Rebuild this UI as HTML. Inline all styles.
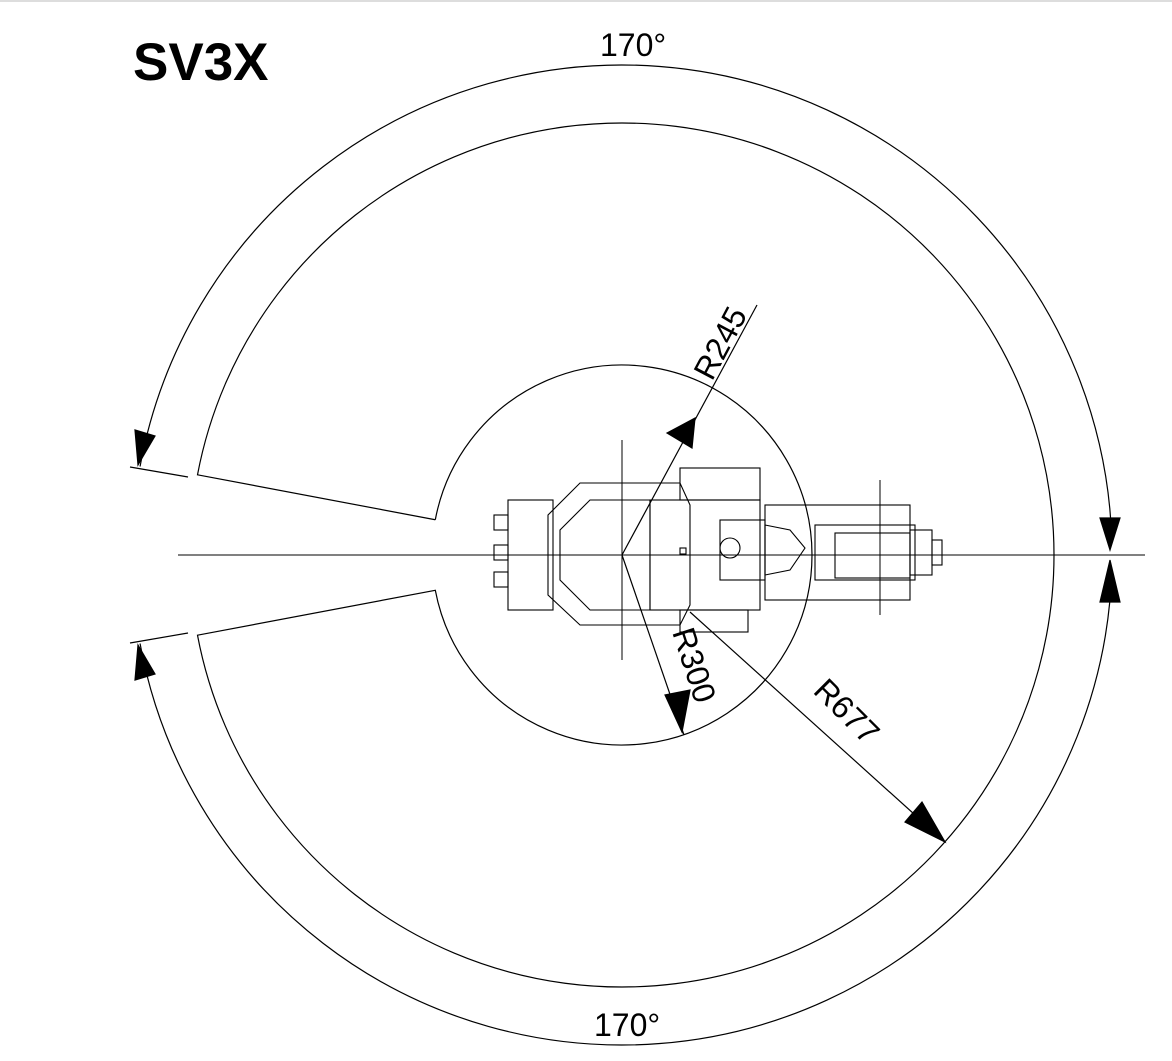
<!DOCTYPE html>
<html><head><meta charset="utf-8"><style>
html,body{margin:0;padding:0;background:#fff}
svg{display:block}
text{font-family:"Liberation Sans",sans-serif;fill:#000}
</style></head><body>
<svg id="dwg" width="1172" height="1061" viewBox="0 0 1172 1061" xmlns="http://www.w3.org/2000/svg">
<line x1="0" y1="1" x2="1172" y2="1" stroke="#bbb" stroke-width="1"/>
<text x="133" y="80" font-size="53" font-weight="bold">SV3X</text>
<text x="600" y="56" font-size="32">170°</text>
<text x="594" y="1036" font-size="32">170°</text>
<g id="geom" fill="none" stroke="#000" stroke-width="1.2"></g>
<g id="robot" fill="none" stroke="#000" stroke-width="1.1">
<rect x="508" y="500" width="45" height="110"/>
<rect x="494" y="515" width="14" height="15"/><rect x="494" y="545" width="14" height="15"/><rect x="494" y="572" width="14" height="15"/>
<polygon points="548,515 580,483 680,483 690,505 690,605 680,625 580,625 548,595"/>
<polygon points="560,530 590,500 650,500 650,610 590,610 560,580"/>
<rect x="650" y="500" width="110" height="110"/>
<rect x="680" y="468" width="80" height="32"/>
<rect x="680" y="610" width="68" height="22"/>
<rect x="720" y="520" width="45" height="60"/>
<circle cx="730" cy="548" r="10"/>
<polygon points="765,525 790,530 805,548 790,570 765,575"/>
<rect x="765" y="505" width="145" height="95"/>
<rect x="815" y="525" width="100" height="55"/>
<rect x="835" y="533" width="75" height="45"/>
<rect x="910" y="530" width="22" height="45"/>
<rect x="932" y="540" width="10" height="25"/>
<rect x="680" y="548" width="6" height="6"/>
</g>
<g stroke="#000" stroke-width="1">
<line x1="178" y1="555" x2="1145" y2="555"/>
<line x1="622" y1="440" x2="622" y2="660"/>
<line x1="880" y1="480" x2="880" y2="615"/>
</g>
<g id="dims" stroke="#000" stroke-width="1.2" fill="none"></g>
<text x="0" y="0" font-size="32" transform="translate(712,382) rotate(-62)">R245</text>
<text x="0" y="0" font-size="32" transform="translate(672,632) rotate(72)">R300</text>
<text x="0" y="0" font-size="32" transform="translate(812,692) rotate(45)">R677</text>
</svg>
<script>
const NS="http://www.w3.org/2000/svg";
const radiiMm=[245,300,677];
const sweepDeg=[170,170];
const cx=622, cy=555, scale=432/677;
const rOuter=radiiMm[2]*scale, rInner=190, rDim=490;
function pt(r,a){const t=a*Math.PI/180;return [cx+r*Math.cos(t), cy-r*Math.sin(t)];}
const g=document.getElementById('geom');
const aTop=180-(180-sweepDeg[0])-0.7;
const o1=pt(rOuter,aTop), o2=pt(rOuter,360-aTop), i1=pt(rInner,aTop), i2=pt(rInner,360-aTop);
const env=document.createElementNS(NS,'path');
env.setAttribute('d',`M${i1} L${o1} A${rOuter} ${rOuter} 0 1 1 ${o2} L${i2} A${rInner} ${rInner} 0 1 0 ${i1}`);


g.appendChild(env);
const d=document.getElementById('dims');
function add(tag,attrs,name){const e=document.createElementNS(NS,tag);for(const k in attrs)e.setAttribute(k,attrs[k]);


d.appendChild(e);return e;}
const dTop1=pt(rDim,aTop+0.3), dTop2=pt(rDim,1.5), dB1=pt(rDim,360-aTop-0.3), dB2=pt(rDim,-1.5);
add('path',{d:`M${dTop1} A${rDim} ${rDim} 0 0 1 ${dTop2}`},'dimension-arc-top');
add('path',{d:`M${dB1} A${rDim} ${rDim} 0 0 0 ${dB2}`},'dimension-arc-bottom');
add('line',{x1:130,y1:467,x2:188,y2:477},'extension-line-top');
add('line',{x1:130,y1:643,x2:188,y2:633},'extension-line-bottom');
add('polygon',{points:"135,430 155,436 138,465",fill:"#000"},'arrow-top-left');
add('polygon',{points:"135,680 155,674 138,645",fill:"#000"},'arrow-bottom-left');
add('polygon',{points:"1100,518 1120,518 1110,550",fill:"#000"},'arrow-right-top');
add('polygon',{points:"1100,602 1120,602 1110,560",fill:"#000"},'arrow-right-bottom');
add('line',{x1:622,y1:555,x2:757,y2:305},'r245-leader');
add('polygon',{points:"667,433 692,448 695,418",fill:"#000"},'r245-arrow');
add('line',{x1:622,y1:555,x2:684,y2:735},'r300-leader');
add('polygon',{points:"665,695 690,690 682,732",fill:"#000"},'r300-arrow');
add('line',{x1:690,y1:612,x2:945,y2:842},'r677-leader');
add('polygon',{points:"905,822 922,802 945,842",fill:"#000"},'r677-arrow');
</script>
</body></html>
